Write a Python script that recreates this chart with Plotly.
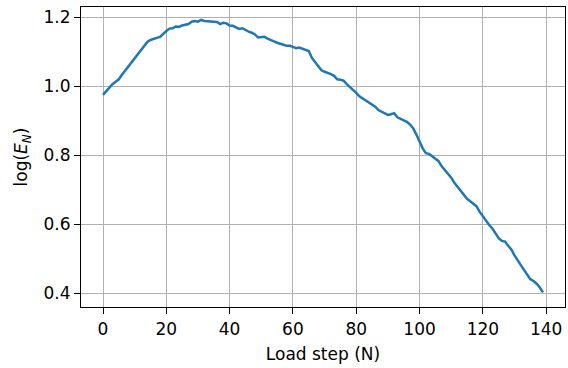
import plotly.graph_objects as go

load_step = list(range(140))
log_en = [
    0.975, 0.986, 0.994, 1.006, 1.013, 1.020, 1.033, 1.045, 1.057, 1.069,
    1.080, 1.092, 1.104, 1.116, 1.128, 1.134, 1.138, 1.140, 1.143, 1.152,
    1.160, 1.167, 1.168, 1.173, 1.172, 1.176, 1.177, 1.180, 1.187, 1.189,
    1.187, 1.192, 1.189, 1.188, 1.188, 1.187, 1.186, 1.180, 1.184, 1.182,
    1.176, 1.175, 1.171, 1.166, 1.168, 1.162, 1.158, 1.155, 1.150, 1.141,
    1.142, 1.143, 1.138, 1.135, 1.130, 1.126, 1.124, 1.120, 1.117, 1.117,
    1.114, 1.110, 1.112, 1.108, 1.104, 1.102, 1.082, 1.070, 1.058, 1.046,
    1.042, 1.039, 1.035, 1.030, 1.020, 1.019, 1.016, 1.006, 0.998, 0.988,
    0.981, 0.971, 0.965, 0.958, 0.954, 0.948, 0.941, 0.931, 0.927, 0.923,
    0.917, 0.919, 0.922, 0.910, 0.905, 0.901, 0.897, 0.889, 0.878, 0.860,
    0.838, 0.820, 0.806, 0.804, 0.797, 0.790, 0.783, 0.768, 0.757, 0.745,
    0.735, 0.720, 0.708, 0.695, 0.684, 0.674, 0.667, 0.660, 0.652, 0.636,
    0.622, 0.612, 0.598, 0.588, 0.573, 0.560, 0.552, 0.550, 0.538, 0.527,
    0.510, 0.494, 0.482, 0.468, 0.455, 0.441, 0.436, 0.428, 0.417, 0.403,
]
x_ticks = [0, 20, 40, 60, 80, 100, 120, 140]
y_ticks = [0.4, 0.6, 0.8, 1.0, 1.2]

FONT = dict(family="DejaVu Sans", size=17, color="black")

fig = go.Figure(go.Scatter(x=load_step, y=log_en, mode="lines",
                           line=dict(color="#1f77b4", width=2.5)))

axis_common = dict(showline=True, linecolor="black", linewidth=1.2, mirror=True,
                   showgrid=True, gridcolor="#b0b0b0", gridwidth=1.3,
                   ticks="outside", ticklen=6, tickwidth=1.2, tickcolor="black",
                   zeroline=False, tickfont=FONT)

fig.update_xaxes(range=[-6.95, 145.95], tickvals=x_ticks,
                 title=dict(text="Load step (N)", font=FONT, standoff=10),
                 **axis_common)
fig.update_yaxes(range=[0.3605, 1.2295], tickvals=y_ticks, tickformat=".1f",
                 title=dict(text="log(<i>E</i><sub><i>N</i></sub>)", font=FONT, standoff=11),
                 **axis_common)
fig.update_layout(width=568, height=368, margin=dict(l=81, r=3, t=7, b=61),
                  plot_bgcolor="white", paper_bgcolor="white", showlegend=False,
                  font=FONT)
fig.write_html("out.html")
